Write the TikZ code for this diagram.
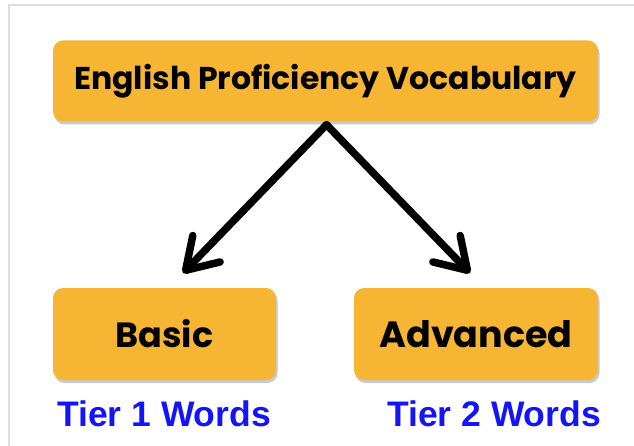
\documentclass[tikz,border=0pt]{standalone}
\usepackage{xcolor}
\usepackage{tikz}
\usepackage{fontspec}
\usetikzlibrary{
  arrows.meta,
  shadows,
  calc
}
\newfontfamily\boxfont{Poppins}
\newfontfamily\tierfont{Liberation Sans}
\definecolor{vocabFill}{HTML}{F6B532}
\definecolor{tierBlue}{HTML}{1414FA}
\definecolor{frameGray}{HTML}{DDDDDD}

\tikzset{
  vocabbox/.style={fill=vocabFill, rounded corners=10pt, inner sep=0pt,
    drop shadow={shadow xshift=1.5pt, shadow yshift=-3pt, opacity=0.35, fill=black!60},
    font=\boxfont\bfseries},
  tierlabel/.style={text=tierBlue, inner sep=0pt, font=\tierfont\bfseries\fontsize{35.5}{40}\selectfont},
  vocabarrow/.style={line width=7.5pt, line cap=round, line join=round,
    -{Straight Barb[length=30pt, width=38pt, line cap=round, line join=round]}}
}

\begin{document}
\begin{tikzpicture}[x=1pt, y=-1pt]
  \useasboundingbox (0,0) rectangle (634,446);
  \draw[frameGray, line width=1.5pt] (9,446) -- (9,5) -- (634,5);
  % boxes
  \node[vocabbox, minimum width=545pt, minimum height=81pt, font=\boxfont\bfseries\fontsize{31.5}{36}\selectfont] (top) at (325.5,81) {English Proficiency Vocabulary};
  \node[vocabbox, minimum width=223pt, minimum height=92pt, font=\boxfont\bfseries\fontsize{35}{40}\selectfont] (basic) at (164.5,334) {Basic};
  \node[vocabbox, minimum width=244pt, minimum height=92pt, font=\boxfont\bfseries\fontsize{36.5}{40}\selectfont] (advanced) at (476,334) {Advanced};
  % tier labels
  \node[tierlabel] (tier1) at (164,414) {Tier 1 Words};
  \node[tierlabel] (tier2) at (494,414) {Tier 2 Words};
  % arrows
  \coordinate (tipL) at (183,273);
  \coordinate (tipR) at (470,273);
  \draw[vocabarrow] ($(top.south)+(1,3)$) -- (tipL);
  \draw[vocabarrow] ($(top.south)+(1,3)$) -- (tipR);
\end{tikzpicture}
\end{document}
